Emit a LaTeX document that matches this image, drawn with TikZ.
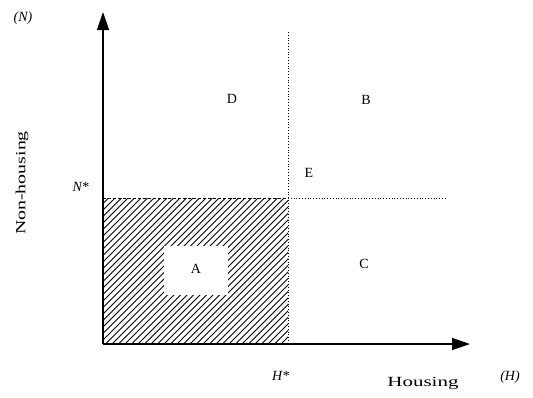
\documentclass[tikz,border=0pt]{standalone}
\usepackage{fontspec}
\setmainfont{Liberation Serif}
\usetikzlibrary{arrows.meta}
\begin{document}
\begin{tikzpicture}[x=1pt,y=-1pt,
  lbl/.style={font=\fontsize{14}{16}\selectfont, inner sep=0pt},
  wide/.style={font=\fontsize{14}{16}\selectfont, inner sep=0pt, xscale=1.5},
  widerot/.style={font=\fontsize{14}{16}\selectfont, inner sep=0pt, rotate=90, xscale=1.42},
  axis/.style={line width=1.3pt, -{Triangle[length=18pt,width=12pt]}},
  guide/.style={line width=0.8pt, dotted}]
\useasboundingbox (0,0) rectangle (533,397);
% hatched region
\begin{scope}
  \clip (103,198) rectangle (288,344);
  \foreach \i in {-160,-153.5,...,200} {
    \draw[line width=0.9pt] (103+\i,344) -- (103+\i+160,184);
  }
\end{scope}
\fill[white] (164,246) rectangle (228,295);
\draw[line width=0.6pt, densely dashed] (103,198) -- (288,198);
\coordinate (O) at (103,344);
\coordinate (Ytip) at (103,12);
\coordinate (Xtip) at (470,344);
\coordinate (Htop) at (288,32);
\coordinate (Hbot) at (288,344);
\coordinate (Nl) at (288,198);
\coordinate (Nr) at (445,198);
\draw[guide] (Htop) -- (Hbot);
\draw[guide] (Nl) -- (Nr);
\draw[axis] (O) -- (Ytip);
\draw[axis] (O) -- (Xtip);
% labels
\node[lbl] (nlab) at (23,18) {\textit{(N)}};
\node[lbl] (nstar) at (81,187) {\textit{N}*};
\node[widerot] (nonh) at (22,183) {Non-housing};
\node[lbl] (D) at (232,99) {D};
\node[lbl] (B) at (366,100) {B};
\node[lbl] (E) at (309,173) {E};
\node[lbl] (A) at (196,269) {A};
\node[lbl] (C) at (364,264) {C};
\node[lbl] (hstar) at (281,376) {\textit{H}*};
\node[lbl] (hlab) at (510,377) {\textit{(H)}};
\node[wide, anchor=base] (housing) at (423,386) {Housing};
\end{tikzpicture}
\end{document}
